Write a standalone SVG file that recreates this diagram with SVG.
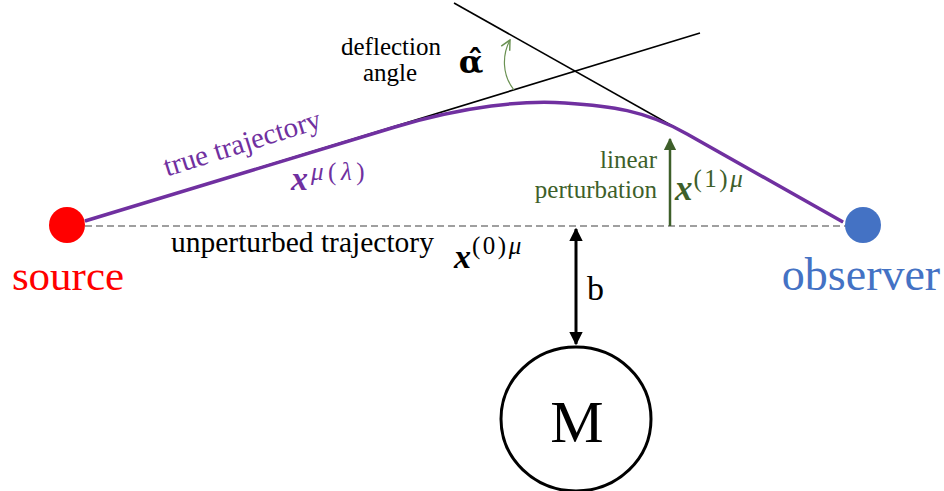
<svg xmlns="http://www.w3.org/2000/svg" width="944" height="491" viewBox="0 0 944 491">
<style>
.bx{font-weight:bold;font-style:italic}
.it{font-style:italic}
.up{font-style:normal}
.sup{letter-spacing:2.5px}
.sup2{letter-spacing:4.5px}
</style>
<defs>
<marker id="ahG" viewBox="0 0 10 10" refX="9" refY="5" markerWidth="5" markerHeight="5" orient="auto-start-reverse" markerUnits="strokeWidth"><path d="M0,0 L10,5 L0,10 z" fill="#3E5F2A"/></marker>
<marker id="ahK" viewBox="0 0 10 10" refX="9" refY="5" markerWidth="4.5" markerHeight="4.5" orient="auto-start-reverse" markerUnits="strokeWidth"><path d="M0,0 L10,5 L0,10 z" fill="#000"/></marker>
<marker id="ahO" viewBox="0 0 10 10" refX="9" refY="5" markerWidth="10" markerHeight="10" orient="auto" markerUnits="strokeWidth"><path d="M1,1 L9,5 L1,9" fill="none" stroke="#6A9152" stroke-width="1.2"/></marker>
</defs>
<rect width="944" height="491" fill="#fff"/>
<g id="connectors">
<line id="unperturbed" x1="85" y1="226" x2="846" y2="226" stroke="#808080" stroke-width="1.5" stroke-dasharray="7,4"/>
<line id="tangent1" x1="85" y1="221" x2="700" y2="33" stroke="#000" stroke-width="1.6"/>
<line id="tangent2" x1="454" y1="3" x2="843" y2="222" stroke="#000" stroke-width="1.6"/>
<path id="true-trajectory" d="M85,221 L395,127 C465,106 525,100 565,103 C610,106 645,110 687,134 L843,222" fill="none" stroke="#7030A0" stroke-width="3.5" stroke-linejoin="round"/>
<line id="perturbation-arrow" x1="670" y1="226" x2="670" y2="139" stroke="#3E5F2A" stroke-width="2.5" marker-end="url(#ahG)"/>
<line id="b-arrow" x1="576" y1="229" x2="576" y2="344" stroke="#000" stroke-width="3" marker-start="url(#ahK)" marker-end="url(#ahK)"/>
<path id="angle-arc" d="M514,90 C502,75 502,55 510,40" fill="none" stroke="#6A9152" stroke-width="1.2" marker-end="url(#ahO)"/>
</g>
<g id="source">
<circle cx="67" cy="225" r="18" fill="#FF0000"/>
<text x="68" y="290" text-anchor="middle" font-family="'Liberation Serif','Times New Roman',serif" font-size="43" fill="#FF0000">source</text>
</g>
<g id="observer">
<circle cx="863" cy="225" r="18" fill="#4472C4"/>
<text x="861" y="290" text-anchor="middle" font-family="'Liberation Serif','Times New Roman',serif" font-size="46" fill="#4472C4">observer</text>
</g>
<g id="mass">
<ellipse cx="576" cy="419" rx="75" ry="72" fill="none" stroke="#000" stroke-width="3"/>
<text x="577" y="442" text-anchor="middle" font-family="'Liberation Serif','Times New Roman',serif" font-size="60" fill="#000">M</text>
</g>
<g id="labels" font-family="'Liberation Serif','Times New Roman',serif">
<text x="391" y="55" text-anchor="middle" font-size="25">deflection</text>
<text x="390" y="81" text-anchor="middle" font-size="25">angle</text>
<text x="471" y="73" text-anchor="middle" font-family="'DejaVu Serif','Liberation Serif',serif" font-weight="bold" font-size="32">α̂</text>
<text transform="translate(245,152) rotate(-17.5)" text-anchor="middle" font-size="29" fill="#7030A0">true trajectory</text>
<text x="291" y="190" font-size="34" fill="#7030A0"><tspan class="bx">x</tspan><tspan dy="-10" font-size="25" class="it sup2" dx="3">μ</tspan><tspan font-size="25" class="up sup2">(</tspan><tspan font-size="25" class="it sup2">λ</tspan><tspan font-size="25" class="up">)</tspan></text>
<text x="657" y="168" text-anchor="end" font-size="25" fill="#3E5F2A">linear</text>
<text x="657" y="198" text-anchor="end" font-size="25" fill="#3E5F2A">perturbation</text>
<text x="675" y="200" font-size="35" fill="#3E5F2A"><tspan class="bx">x</tspan><tspan dy="-13" dx="1" font-size="25" class="up sup">(1)</tspan><tspan font-size="25" class="it">μ</tspan></text>
<text x="171" y="252" font-size="29.5">unperturbed trajectory</text>
<text x="454" y="268" font-size="34"><tspan class="bx">x</tspan><tspan dy="-14" dx="1" font-size="25" class="up sup">(0)</tspan><tspan font-size="25" class="it">μ</tspan></text>
<text x="587" y="300" font-size="34">b</text>
</g>
</svg>
